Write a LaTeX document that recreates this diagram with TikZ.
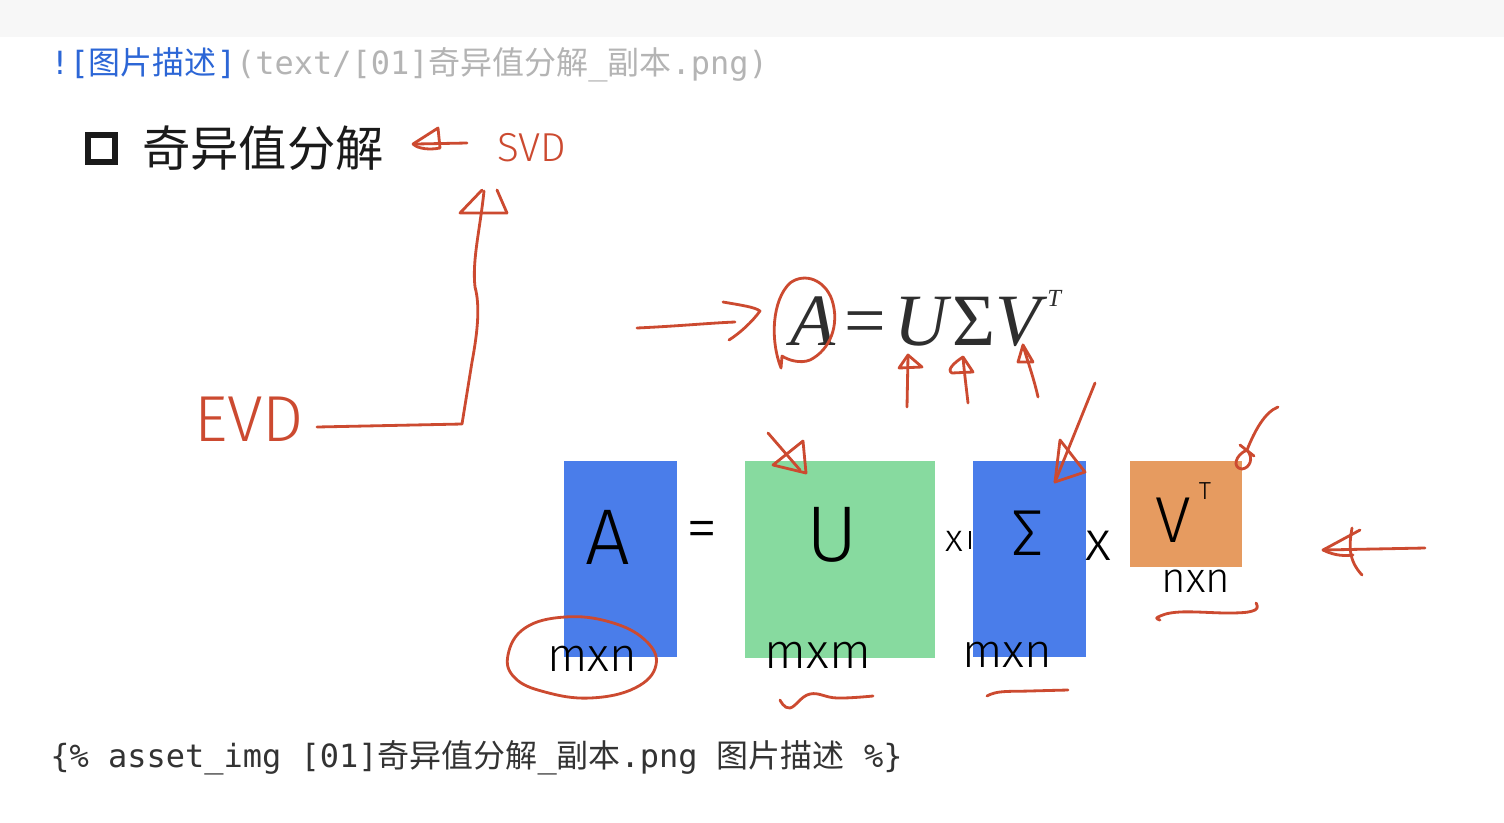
\documentclass[tikz,border=0pt]{standalone}
\usepackage{fontspec}
\newfontfamily\mono{DejaVu Sans Mono}
\newfontfamily\cjk{Noto Sans CJK SC}
\newfontfamily\tms{Liberation Serif}
\IfFontExistsTF{Fira Sans Light}{\newfontfamily\hand{Fira Sans Light}}{\newfontfamily\hand{Fira Sans}}
\newcommand\hs[1]{\hand\fontsize{#1}{#1}\selectfont}
\definecolor{topgray}{HTML}{F7F7F7}
\definecolor{linkblue}{HTML}{2C66D6}
\definecolor{mdgray}{HTML}{B4B4B4}
\definecolor{codeblack}{HTML}{333333}
\definecolor{titleblack}{HTML}{1A1A1A}
\definecolor{formgray}{HTML}{2E2E2E}
\definecolor{inkred}{HTML}{CC4A30}
\definecolor{blockblue}{HTML}{4A7DEA}
\definecolor{blockgreen}{HTML}{87DA9F}
\definecolor{blockorange}{HTML}{E69B60}
\begin{document}
\begin{tikzpicture}[x=0.02cm,y=-0.02cm,
  ink/.style={draw=inkred,line width=1.6pt,line cap=round,line join=round},
  hw/.style={inner sep=0pt,text=black},
  inktext/.style={inner sep=0pt,text=inkred},
  mdline/.style={inner sep=0pt,anchor=base west,font=\mono\fontsize{18.2}{20}\selectfont}]
\useasboundingbox (0,0) rectangle (1504,822);
\fill[white] (0,0) rectangle (1504,822);
\fill[topgray] (0,0) rectangle (1504,37);

% markdown lines
\node[mdline] (md1) at (50,74) {\textcolor{linkblue}{![{\cjk 图片描述}]}\textcolor{mdgray}{(text/[01]{\cjk 奇异值分解}\_{\cjk 副本}.png)}};
\node[mdline,text=codeblack] (md2) at (50,767) {\{\% asset\_img [01]{\cjk 奇异值分解}\_{\cjk 副本}.png {\cjk 图片描述} \%\}};

% title
\draw[titleblack,line width=3.4pt] (88,135) rectangle (115,162);
\node[inner sep=0pt,anchor=base west,text=titleblack,font=\cjk\fontsize{27.5}{30}\selectfont] (title) at (142,166) {奇异值分解};

% SVD annotation
\draw[ink] (467,143) -- (416,144);
\draw[ink] (413,144) -- (438,128) -- (440,148) .. controls (430,150) and (418,149) .. (413,144);
\node[inktext,font=\hs{23}] (svd) at (532,148) {SVD};

% EVD annotation
\node[inktext,font=\hs{37}] (evd) at (249,419) {EVD};
\coordinate (evdend) at (317,427);
\draw[ink] (evdend) -- (462,424) -- (472,362) .. controls (478,330) and (480,305) .. (475,287) .. controls (472,260) and (480,230) .. (484,191);
\draw[ink] (482,190) -- (460,213) -- (507,213);
\draw[ink] (497,190) -- (507,213);

% formula
\node[inner sep=0pt,anchor=base west,text=formgray,font=\tms\fontsize{42}{44}\selectfont] (formula) at (790,345)
  {\textit{A}\kern5pt=\kern5pt\textit{U}Σ\textit{V}\raisebox{22pt}{\fontsize{14}{14}\selectfont\textit{T}}};
\draw[ink] (637,328) .. controls (680,326) and (710,323) .. (735,322);
\draw[ink] (723,302) .. controls (740,305) and (755,307) .. (760,311) .. controls (752,322) and (740,333) .. (729,340);
\draw[ink] (781,368) .. controls (770,340) and (772,300) .. (790,283) .. controls (805,272) and (825,280) .. (832,300) .. controls (840,325) and (830,350) .. (810,360) .. controls (800,364) and (788,360) .. (782,356) -- (781,368);
% up arrows
\draw[ink] (907,407) -- (908,356);
\draw[ink] (908,355) -- (899,368) -- (922,367) -- cycle;
\draw[ink] (968,403) .. controls (966,385) and (964,370) .. (963,357);
\draw[ink] (963,357) .. controls (955,362) and (946,370) .. (952,373) -- (973,372) -- cycle;
\draw[ink] (1038,397) .. controls (1033,375) and (1027,360) .. (1023,345);
\draw[ink] (1023,345) -- (1018,362) -- (1033,362) -- cycle;

% blocks
\fill[blockblue] (564,461) rectangle (677,657);
\fill[blockgreen] (745,461) rectangle (935,658);
\fill[blockblue] (973,461) rectangle (1086,657);
\fill[blockorange] (1130,461) rectangle (1242,567);

% handwritten black text
\node[hw,font=\hs{45}] (tA) at (608,537) {A};
\node[hw,font=\hs{36}] (teq) at (702,535) {=};
\node[hw,font=\hs{45}] (tU) at (832,535) {U};
\node[hw,font=\hs{22}] (tx1) at (954,541) {x};
\draw[black,line width=1pt] (970,531) -- (970,549);
\node[hw,font=\hs{37}] (tS) at (1028,533) {Σ};
\node[hw,font=\hs{32}] (tx2) at (1098,546) {x};
\node[hw,font=\hs{37}] (tV) at (1173,520) {V};
\node[hw,font=\hs{14}] (tT) at (1205,491) {T};
\node[hw,font=\hs{27}] (mn1) at (592,659) {mxn};
\node[hw,font=\hs{28}] (mm) at (818,655) {mxm};
\node[hw,font=\hs{27}] (mn2) at (1007,655) {mxn};
\node[hw,font=\hs{24}] (nn) at (1196,581) {nxn};

% red arrows into blocks
\draw[ink] (768,433) -- (800,470);
\draw[ink] (803,441) -- (806,473) -- (773,465) -- (803,441);
\draw[ink] (1095,383) -- (1055,482);
\draw[ink] (1060,440) -- (1055,482) -- (1085,472) -- (1060,440);
\draw[ink] (1278,407) .. controls (1265,412) and (1255,430) .. (1247,450);
\draw[ink] (1247,450) .. controls (1235,455) and (1232,468) .. (1242,469) .. controls (1250,468) and (1254,458) .. (1247,450);
\draw[ink] (1240,445) -- (1254,456);
\draw[ink] (1425,548) -- (1323,550);
\draw[ink] (1323,550) -- (1360,530);
\draw[ink] (1323,550) .. controls (1335,556) and (1345,556) .. (1353,555);
\draw[ink] (1352,528) .. controls (1349,545) and (1348,560) .. (1362,575);

% circle and squiggles
\draw[ink] plot[smooth cycle,tension=0.7] coordinates {(508,655) (525,628) (565,617) (610,622) (645,640) (656,665) (635,688) (590,698) (545,692) (515,678)};
\draw[ink] plot[smooth,tension=0.7] coordinates {(780,700) (790,708) (810,694) (837,698) (873,696)};
\draw[ink] plot[smooth,tension=0.7] coordinates {(987,696) (1000,692) (1030,691) (1068,690)};
\draw[ink] plot[smooth,tension=0.7] coordinates {(1160,620) (1158,617) (1180,612) (1233,613) (1255,610) (1256,603)};
\end{tikzpicture}
\end{document}
